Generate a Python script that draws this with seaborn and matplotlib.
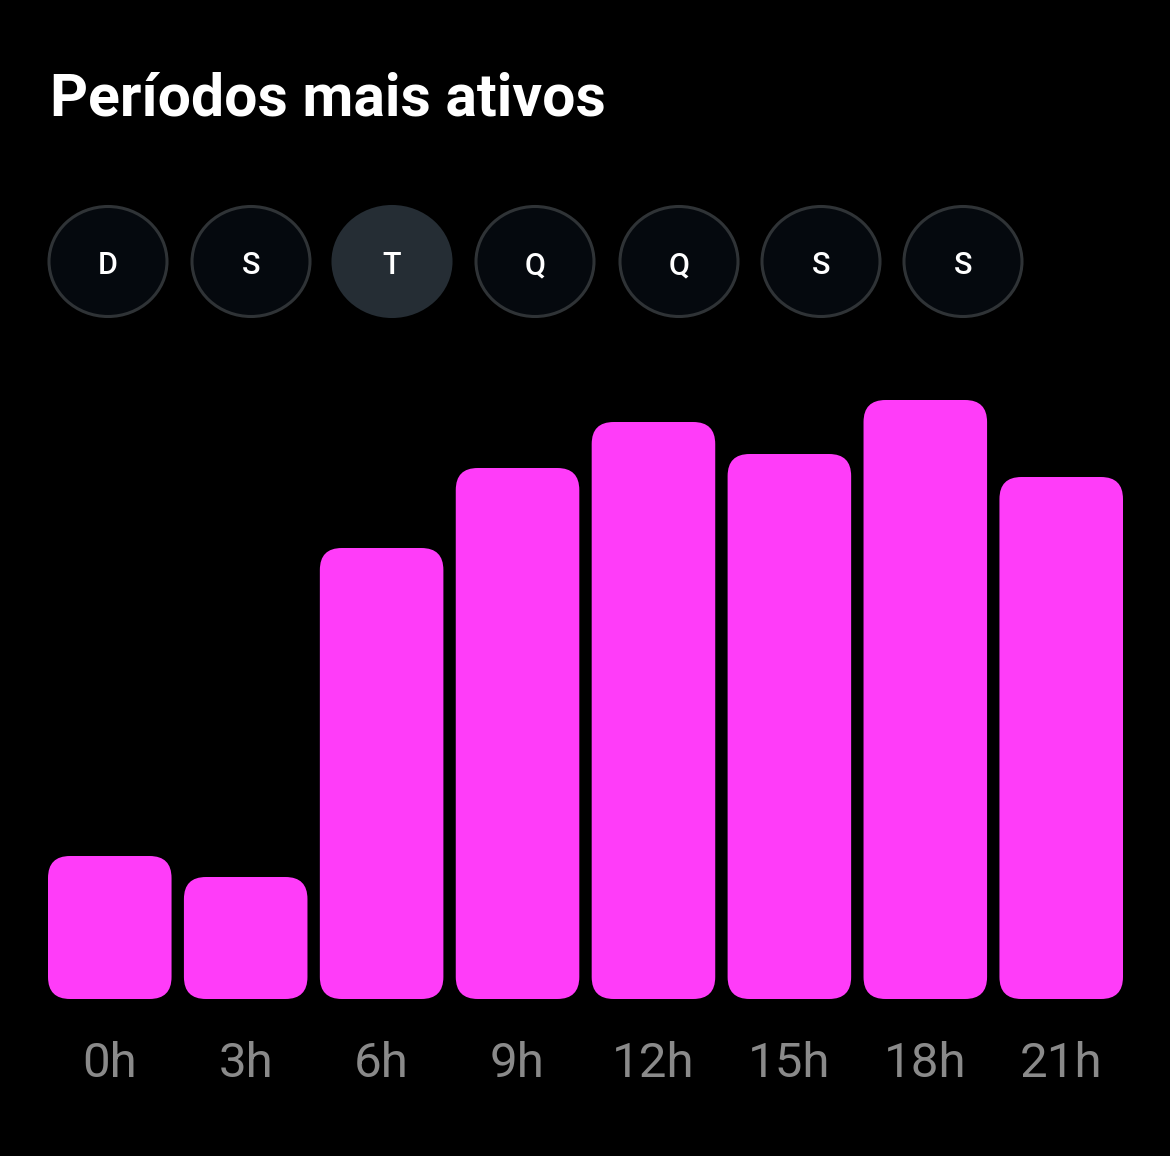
import pandas as pd
import matplotlib
matplotlib.use('Agg')
import matplotlib.pyplot as plt
import seaborn as sns
from matplotlib.patches import FancyBboxPatch, Ellipse

# data (bar heights in relative units)
hours = ['0h', '3h', '6h', '9h', '12h', '15h', '18h', '21h']
activity = [143, 122, 451, 531, 577, 545, 599, 522]
days = ['D', 'S', 'T', 'Q', 'Q', 'S', 'S']
selected_day = 2

BG = '#000000'
BAR = '#FF3CF9'
PILL = '#05090E'
PILL_SEL = '#252D34'
PILL_EDGE = '#2F3336'
TICK = '#8A8A8A'

W, H = 1170, 1156
sns.set_theme(style='dark')
plt.rcParams['font.family'] = ['Roboto', 'DejaVu Sans']

df = pd.DataFrame({'hour': hours, 'activity': activity})

fig = plt.figure(figsize=(W / 100, H / 100), dpi=100, facecolor=BG)
ax = fig.add_axes([48 / W, (H - 999) / H, 1075 / W, 600 / H])
ax.set_facecolor(BG)

sns.barplot(data=df, x='hour', y='activity', color=BAR, width=0.909,
            saturation=1, ax=ax)

ax.set_xlim(-0.4545, 7.4545)
ax.set_ylim(0, 600)

# swap the plain rectangles for rounded ones
px_x = 1075 / 7.909
radius = 22
for bar in list(ax.patches):
    x0, y0 = bar.get_x(), bar.get_y()
    bw, bh = bar.get_width(), bar.get_height()
    bar.remove()
    ax.add_patch(FancyBboxPatch((x0, y0), bw, bh,
                                boxstyle=f'round,pad=0,rounding_size={radius / px_x}',
                                mutation_aspect=px_x, fc=BAR, ec='none'))

ax.set_xlabel('')
ax.set_ylabel('')
ax.set_yticks([])
ax.tick_params(axis='x', length=0, pad=30, labelsize=35.5, labelcolor=TICK)
for s in ax.spines.values():
    s.set_visible(False)
ax.grid(False)

fig.text(50 / W, 1 - 116 / H, 'Períodos mais ativos', color='white',
         fontsize=42.4, fontweight='bold', va='baseline', ha='left')

# day selector pills
centers = [108, 251, 392, 535, 679, 821, 963]
for i, (cx, d) in enumerate(zip(centers, days)):
    fc = PILL_SEL if i == selected_day else PILL
    ec = PILL_SEL if i == selected_day else PILL_EDGE
    fig.patches.append(Ellipse((cx / W, 1 - 261.5 / H), 118 / W, 110 / H,
                               transform=fig.transFigure, fc=fc, ec=ec, lw=2.2))
    fig.text(cx / W, 1 - 274 / H, d, color='white', fontsize=22,
             fontweight='medium', ha='center', va='baseline')

fig.savefig('out.png', dpi=100, facecolor=BG)
